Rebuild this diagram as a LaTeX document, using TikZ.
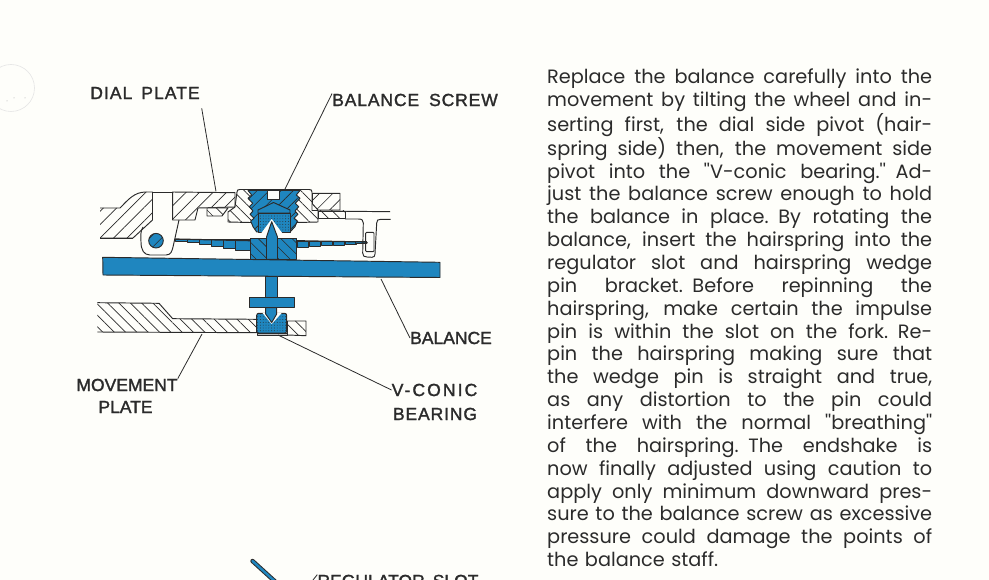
\documentclass[tikz,border=0pt]{standalone}
\usepackage{fontspec}
\usetikzlibrary{patterns.meta}
\newfontfamily\bodyfont{Poppins}
\newfontfamily\labelfont[FakeBold=1.6]{Liberation Sans}
\definecolor{paper}{HTML}{FEFEFA}
\definecolor{steelblue}{HTML}{1F86BF}
\definecolor{inkdark}{HTML}{2B2B2B}
\newcommand{\jline}[1]{\hbox to 385pt{\spaceskip=0.25em plus 1fil minus 0.12em\relax #1}}
\newcommand{\lsp}[1]{\addfontfeature{LetterSpace=#1}}
\tikzset{
	part/.style={draw=inkdark,line width=0.95pt,line join=round},
	hatchup/.style={part,preaction={fill=paper},pattern={Lines[angle=45,distance=9.5pt,line width=0.7pt]},pattern color=inkdark},
	hatchdown/.style={part,preaction={fill=paper},pattern={Lines[angle=-45,distance=8pt,line width=0.7pt]},pattern color=inkdark},
	bluepart/.style={part,fill=steelblue},
	bluehatch/.style={part,preaction={fill=steelblue},pattern={Lines[angle=45,distance=8.5pt,line width=0.6pt]},pattern color=inkdark},
	bluehatchd/.style={part,preaction={fill=steelblue},pattern={Lines[angle=-45,distance=8pt,line width=0.6pt]},pattern color=inkdark},
	bluedots/.style={part,preaction={fill=steelblue},pattern={Dots[distance=2.8pt,radius=0.45pt]},pattern color=inkdark},
	leader/.style={draw=inkdark,line width=0.8pt},
	lbl/.style={inner sep=0pt,text=inkdark,font=\fontsize{17.5}{21}\labelfont}
}
\begin{document}
\begin{tikzpicture}[x=1pt,y=-1pt]
	\fill[paper] (0,0) rectangle (989,580);
	\useasboundingbox (0,0) rectangle (989,580);
	\clip (0,0) rectangle (989,580);
	% stray ring on the paper
	\draw[black!10,line width=0.6pt] (11,88) circle (23.5);
	\fill[black!35] (7,101) circle (0.5) (14,98) circle (0.5) (25,98) circle (0.5);
	% dial plate
	\draw[hatchup] (100,208) -- (120,208) .. controls (128,200) and (134,192) .. (146,192) -- (152.5,192) -- (152.5,220) -- (133,238) -- (100,238);
	\draw[part] (100,238) -- (133,238);
	\draw[hatchup] (172.7,192) -- (235,192.7) -- (235,207) -- (198,208) -- (195,220) -- (172.7,220) -- cycle;
	\draw[hatchdown] (207,208) -- (228,208) -- (222,216) -- (207,216) -- cycle;
	\draw[part] (143,227) .. controls (140,232) and (141,236) .. (141,242) .. controls (141,250) and (144,255) .. (150,255) -- (166,255) .. controls (171,255) and (172,251) .. (173,247) -- (179,220);
	\draw[part] (152.5,192) -- (172.7,192);
	\draw[bluehatch] (156,240.7) circle (7.3);
	% screw bushing
	\draw[hatchdown] (237,192) .. controls (237,190) and (238,189.5) .. (240,189.5) -- (309,189.5) .. controls (311,189.5) and (312,190) .. (312,192) -- (312,210.5) -- (318,210.5) -- (318,222) -- (298,222.5) -- (250,222.5) -- (228,222) -- (228,212) -- (235,207) -- cycle;
	\draw[hatchup] (312.5,193.3) -- (340,193.3) -- (340,210) -- (318,210) -- (312.5,204) -- cycle;
	\draw[hatchdown] (318,211) -- (345,211) -- (345,218.7) -- (318,218.7) -- cycle;
	% balance screw
	\draw[bluehatch] (248,190.5) -- (300,190.5) -- (296.3,195) -- (300,198.3) -- (295.3,203.3) -- (298.7,206.7) -- (295,211) -- (298,214.3) -- (294,218.3) -- (297.3,221) -- (295,226.7) -- (290,232) -- (256.7,232) -- (253,226.7) -- (250.7,221) -- (254,218.3) -- (250,214.3) -- (253,211) -- (249.3,206.7) -- (252.7,203.3) -- (248,198.3) -- (251.7,195) -- cycle;
	\draw[part,fill=paper] (267.7,190.5) rectangle (279,199.3);
	\draw[bluedots] (258,213) rectangle (290,232);
	\draw[bluepart] (258,213) -- (258,210) -- (273.5,202.5) -- (290,210) -- (290,213) -- cycle;
	\fill[paper] (261.5,232.8) -- (271.7,219) -- (282,232.8) -- cycle;
	% hairspring
	\foreach \xpos/\ybot in {175/241,187/242.5,199/244,211/246,223/248,235/250.5}
		\draw[bluepart,line width=0.6pt] (\xpos,239.5) rectangle (\xpos+15,\ybot);
	\draw[inkdark,line width=1.2pt] (175,239) -- (250,240.7);
	\foreach \xpos/\ybot in {297/247.5,309/246.5,321/245.5,333/245,345/244,355/243.5}
		\draw[bluepart,line width=0.6pt] (\xpos,241) rectangle (\xpos+11,\ybot);
	\draw[inkdark,line width=1.2pt] (296.7,240.7) -- (366.7,242);
	% regulator
	\draw[part] (318,211) -- (390,211.7);
	\draw[part] (345,219) -- (358,219) .. controls (362,219) and (363.3,220) .. (363.3,223) -- (362.7,253) .. controls (362.7,256) and (364,257) .. (367,257) -- (372,257.3) .. controls (374,257.3) and (375,256) .. (375,254) -- (376.7,223) .. controls (376.7,220) and (378,219.3) .. (381,219.3) -- (390.7,219.3);
	\draw[part,rounded corners=1pt] (365.7,232.3) rectangle (374,251.7);
	\fill[inkdark] (366.7,242.7) circle (1.1);
	% balance staff
	\draw[bluepart] (102.7,257.3) -- (440,262.3) -- (440,277.5) -- (103,275) -- cycle;
	\draw[bluehatchd] (250,238.3) rectangle (296.7,259.3);
	\draw[bluepart] (266.5,259.3) -- (266.5,237) -- (271.7,221.7) -- (277.5,237) -- (277.5,259.3) -- cycle;
	\draw[bluepart] (265.7,276.3) rectangle (277.7,297.7);
	\draw[bluepart] (249.3,297.7) rectangle (294.3,307.7);
	% movement plate
	\draw[hatchdown] (97.3,302.7) -- (159,303.3) -- (172.7,318.7) -- (256.7,319.3) -- (256.7,332.7) -- (97.3,332);
	\draw[hatchdown] (287.3,321) -- (306,321) -- (306,335.7) -- (287.3,335) -- cycle;
	% v-conic bearing
	\draw[bluedots,rounded corners=2pt] (256.7,313.3) rectangle (286.7,333);
	\fill[paper] (262.5,313) -- (271.7,324) -- (281.7,313) -- cycle;
	\draw[bluepart] (265.7,307.7) -- (276.7,307.7) -- (276.7,314) -- (271.7,322.5) -- (265.7,314) -- cycle;
	\draw[part,fill=black!25] (257,333) rectangle (287,335);
	% regulator slot detail
	\draw[inkdark,line width=4.4pt,line cap=round] (252.5,561) -- (280,586);
	\draw[steelblue,line width=2.4pt,line cap=round] (252.5,561) -- (280,586);
	% labels
	\node[lbl] (diallabel) at (145,93) {\lsp{6}DIAL\hspace{9pt}PLATE};
	\node[lbl] (screwlabel) at (415,100) {\lsp{5}BALANCE\hspace{10pt}SCREW};
	\node[lbl] (balancelabel) at (451,338) {BALANCE};
	\node[lbl] (movementlabel) at (127,385) {MOVEMENT};
	\node[lbl] (platelabel) at (125.5,407) {PLATE};
	\node[lbl] (coniclabel) at (434.5,390) {\lsp{12}V-CONIC};
	\node[lbl] (bearinglabel) at (435,414) {\lsp{5}BEARING};
	\node[lbl] (slotlabel) at (398,581) {REGULATOR\hspace{8pt}SLOT};
	\coordinate (dialend) at (201.7,108.3);
	\coordinate (dialpt) at (216,191.5);
	\coordinate (screwpt) at (285,189);
	\coordinate (balancept) at (381,279);
	\coordinate (movementpt) at (202,334);
	\coordinate (conicpt) at (278,335);
	\coordinate (slotend) at (313,580);
	\draw[leader] (dialend) -- (dialpt);
	\draw[leader] (screwlabel.north west) -- (screwpt);
	\draw[leader] (balancept) -- (balancelabel.west);
	\draw[leader] (movementpt) -- (movementlabel.north east);
	\draw[leader] (conicpt) -- (coniclabel.west);
	\draw[leader] (slotend) -- (slotlabel.north west);
	% text column
	\node[anchor=north west,inner sep=0pt,text width=385pt,text=inkdark,font=\fontsize{19.3}{22.85}\bodyfont] (bodytext) at (547,69) {%
		\jline{Replace the balance carefully into the}
		\jline{movement by tilting the wheel and in-}
		\jline{serting first, the dial side pivot (hair-}
		\jline{spring side) then, the movement side}
		\jline{pivot into the ''V-conic bearing.'' Ad-}
		\jline{just the balance screw enough to hold}
		\jline{the balance in place. By rotating the}
		\jline{balance, insert the hairspring into the}
		\jline{regulator slot and hairspring wedge}
		\jline{pin bracket. Before repinning the}
		\jline{hairspring, make certain the impulse}
		\jline{pin is within the slot on the fork. Re-}
		\jline{pin the hairspring making sure that}
		\jline{the wedge pin is straight and true,}
		\jline{as any distortion to the pin could}
		\jline{interfere with the normal ''breathing''}
		\jline{of the hairspring. The endshake is}
		\jline{now finally adjusted using caution to}
		\jline{apply only minimum downward pres-}
		\jline{sure to the balance screw as excessive}
		\jline{pressure could damage the points of}
		\hbox{the balance staff.}};
\end{tikzpicture}
\end{document}
